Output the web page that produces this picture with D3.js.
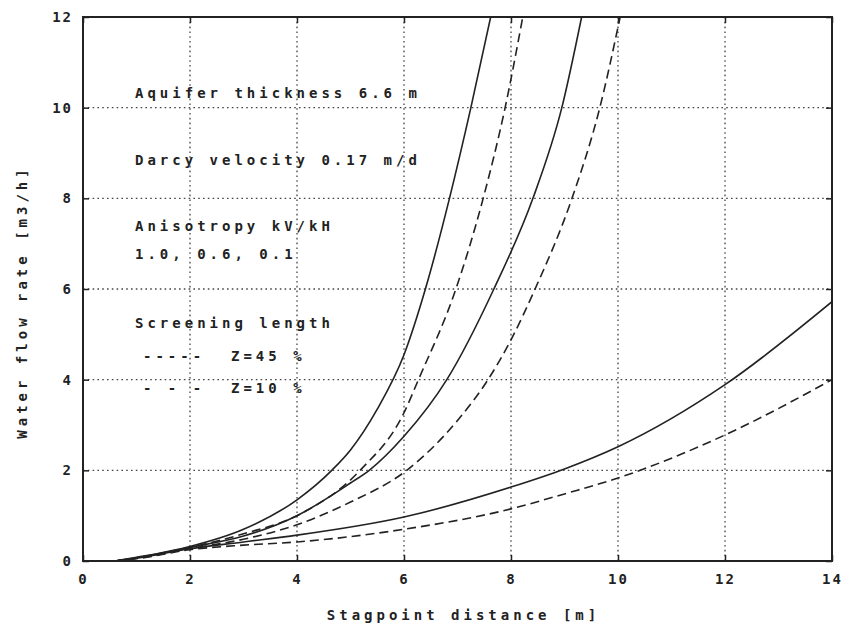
<!DOCTYPE html>
<html>
<head>
<meta charset="utf-8">
<script src="https://cdn.jsdelivr.net/npm/d3@7"></script>
<style>
  html, body { margin: 0; padding: 0; background: #fff; }
  svg { display: block; }
  text { font-family: "DejaVu Sans Mono", "Liberation Mono", monospace; font-weight: bold; fill: #222; }
</style>
</head>
<body>
<svg id="chart"></svg>
<script>
// x ticks / y ticks
const xTicks = [0, 2, 4, 6, 8, 10, 12, 14];
const yTicks = [0, 2, 4, 6, 8, 10, 12];

// curves: [stagpoint distance m, flow m3/h]
const solid10 = [[0.6,0],[1,0.08],[2,0.32],[3,0.7],[4,1.35],[4.65,2],[5,2.45],[5.5,3.35],[6,4.55],[6.4,6],[6.85,8],[7.25,10],[7.62,12]];
const dash10  = [[0.6,0],[1,0.07],[2,0.3],[3,0.6],[4,1.0],[5.18,2],[6,3.27],[6.27,4],[6.97,6],[7.48,8],[7.89,10],[8.22,12]];
const solid06 = [[0.6,0],[1,0.07],[2,0.3],[3,0.55],[4,1.0],[5,1.72],[5.35,2],[6,2.75],[6.8,4],[7.68,6],[8.41,8],[8.95,10],[9.32,12]];
const dash06  = [[0.6,0],[1,0.06],[2,0.27],[3,0.48],[4,0.8],[5,1.3],[6.05,2],[7,3.1],[7.57,4],[8,4.88],[8.45,6],[9.14,8],[9.66,10],[10.04,12]];
const solid01 = [[0.6,0],[1,0.06],[2,0.27],[3,0.42],[4,0.57],[6,0.97],[8,1.63],[9,2.03],[10,2.52],[12,3.89],[14,5.72]];
const dash01  = [[0.6,0],[1,0.05],[2,0.25],[3,0.35],[4,0.42],[6,0.7],[8,1.15],[9,1.48],[10,1.83],[12,2.78],[14,4.0]];

const notes = [
  "Aquifer thickness 6.6 m",
  "Darcy velocity 0.17 m/d",
  "Anisotropy kV/kH",
  "1.0, 0.6, 0.1",
  "Screening length"
];
const legend = [
  { mark: "-----", label: "Z=45 %" },
  { mark: "- - -", label: "Z=10 %" }
];

const width = 843;
const height = 628;
const margin = { top: 17, right: 11, bottom: 67, left: 83 };
const iw = width - margin.left - margin.right;
const ih = height - margin.top - margin.bottom;

const svg = d3.select("#chart")
    .attr("width", width)
    .attr("height", height);

const x = d3.scaleLinear().domain([0, 14]).range([0, iw]);
const y = d3.scaleLinear().domain([0, 12]).range([ih, 0]);

const g = svg.append("g")
    .attr("transform", `translate(${margin.left},${margin.top})`);

svg.append("defs").append("clipPath").attr("id", "plot")
  .append("rect").attr("width", iw).attr("height", ih);

// dotted grid
g.append("g")
    .selectAll("line")
    .data(xTicks.slice(1, -1))
    .join("line")
    .attr("x1", d => x(d)).attr("x2", d => x(d))
    .attr("y1", 0).attr("y2", ih)
    .attr("stroke", "#444").attr("stroke-width", 1.3)
    .attr("stroke-dasharray", "1.6,3.2");

g.append("g")
    .selectAll("line")
    .data(yTicks.slice(1, -1))
    .join("line")
    .attr("x1", 0).attr("x2", iw)
    .attr("y1", d => y(d)).attr("y2", d => y(d))
    .attr("stroke", "#444").attr("stroke-width", 1.3)
    .attr("stroke-dasharray", "1.6,3.2");

// axes with short inward ticks
const bottom = g.append("g")
    .attr("transform", `translate(0,${ih})`)
    .call(d3.axisBottom(x).tickValues(xTicks).tickSize(-6).tickPadding(10).tickFormat(d3.format("d")));
const left = g.append("g")
    .call(d3.axisLeft(y).tickValues(yTicks).tickSize(-6).tickPadding(8).tickFormat(d3.format("d")));
g.append("g")
    .call(d3.axisTop(x).tickValues(xTicks).tickSize(-6).tickFormat(""));
g.append("g")
    .attr("transform", `translate(${iw},0)`)
    .call(d3.axisRight(y).tickValues(yTicks).tickSize(-6).tickFormat(""));

g.selectAll(".domain").remove();
g.selectAll(".tick line").attr("stroke", "#222").attr("stroke-width", 1.5);
g.selectAll(".tick text")
    .attr("font-size", 14)
    .attr("font-family", "DejaVu Sans Mono")
    .attr("font-weight", "bold")
    .attr("fill", "#222")
    .style("letter-spacing", "2px");
bottom.selectAll(".tick text").attr("dy", "0.9em");
left.selectAll(".tick text").attr("dx", "-2px");

// frame
g.append("rect")
    .attr("width", iw).attr("height", ih)
    .attr("fill", "none")
    .attr("stroke", "#222").attr("stroke-width", 2);

// curves
const line = d3.line()
    .x(d => x(d[0]))
    .y(d => y(d[1]))
    .curve(d3.curveMonotoneX);

const series = [
  { data: solid10, dash: null },
  { data: dash10, dash: "9,5" },
  { data: solid06, dash: null },
  { data: dash06, dash: "9,5" },
  { data: solid01, dash: null },
  { data: dash01, dash: "9,5" }
];

g.append("g")
    .attr("clip-path", "url(#plot)")
    .selectAll("path")
    .data(series)
    .join("path")
    .attr("d", d => line(d.data))
    .attr("fill", "none")
    .attr("stroke", "#222")
    .attr("stroke-width", 1.6)
    .attr("stroke-dasharray", d => d.dash);

// annotation block
const noteY = [93, 160, 226, 254, 323];
g.append("g")
    .selectAll("text")
    .data(notes)
    .join("text")
    .attr("x", 135 - margin.left)
    .attr("y", (d, i) => noteY[i] - margin.top)
    .attr("dy", "0.35em")
    .attr("font-size", 14)
    .style("letter-spacing", "4px")
    .text(d => d);

const legY = [356, 388];
const leg = g.append("g")
    .selectAll("g")
    .data(legend)
    .join("g")
    .attr("transform", (d, i) => `translate(${143 - margin.left},${legY[i] - margin.top})`);

leg.append("text")
    .attr("dy", "0.35em")
    .attr("font-size", 14)
    .style("letter-spacing", "4px")
    .text(d => d.mark);

leg.append("text")
    .attr("x", 88)
    .attr("dy", "0.35em")
    .attr("font-size", 14)
    .style("letter-spacing", "4px")
    .text(d => d.label);

// axis titles
svg.append("text")
    .attr("x", margin.left + iw / 2 + 6)
    .attr("y", 615)
    .attr("dy", "0.35em")
    .attr("text-anchor", "middle")
    .attr("font-size", 14)
    .style("letter-spacing", "4px")
    .text("Stagpoint distance [m]");

svg.append("text")
    .attr("transform", "translate(22,302) rotate(-90)")
    .attr("dy", "0.35em")
    .attr("text-anchor", "middle")
    .attr("font-size", 14)
    .style("letter-spacing", "4px")
    .text("Water flow rate [m3/h]");
</script>
</body>
</html>
